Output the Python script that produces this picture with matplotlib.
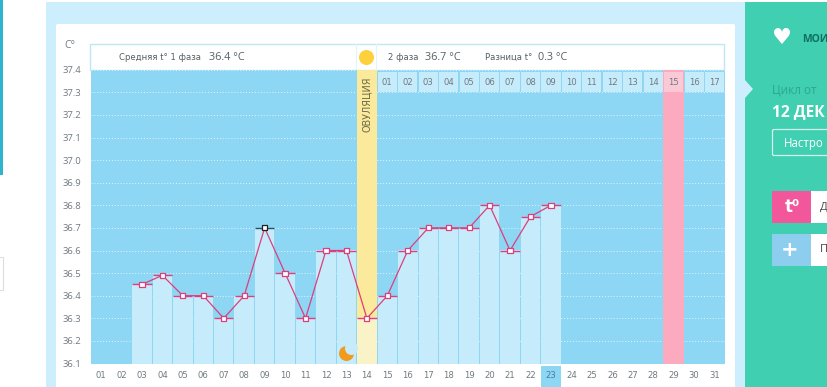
import matplotlib
matplotlib.use("Agg")
import matplotlib.pyplot as plt
from matplotlib.patches import Circle, Polygon, Rectangle, FancyBboxPatch

# data
days = list(range(1, 32))
day_labels = [f"{d:02d}" for d in days]
temp_days = list(range(3, 24))
temps = [36.45, 36.49, 36.4, 36.4, 36.3, 36.4, 36.7, 36.5, 36.3, 36.6, 36.6,
         36.3, 36.4, 36.6, 36.7, 36.7, 36.7, 36.8, 36.6, 36.75, 36.8]
y_ticks = [36.1, 36.2, 36.3, 36.4, 36.5, 36.6, 36.7, 36.8, 36.9, 37.0, 37.1, 37.2, 37.3, 37.4]
ovulation_day = 14
max_temp_day = 9
pink_day = 29
today = 23
phase2_days = list(range(15, 32))
phase2_labels = [f"{d:02d}" for d in range(1, 18)]

W, H = 828, 387
SKY = "#8dd6f4"
BAR = "#c6ecfc"
PALE = "#cdeefc"
TEAL = "#40cfb0"
YELLOW = "#fbe99c"
PINK = "#fcaabf"
LINE = "#dc3f7c"
GREY = "#6f7a80"

fig = plt.figure(figsize=(W / 100, H / 100), dpi=100, facecolor="white")
plt.rcParams["font.family"] = ["DejaVu Sans"]


def pixel_axes(z):
    a = fig.add_axes([0, 0, 1, 1], zorder=z)
    a.set_xlim(0, W)
    a.set_ylim(H, 0)
    a.axis("off")
    return a


bg = pixel_axes(0)
top = pixel_axes(2)

# page furniture
bg.add_patch(Rectangle((0, 0), 3, 175, fc="#2fb4cd", ec="none"))
bg.add_patch(Rectangle((-2, 257), 5, 33, fc="white", ec="#dddddd", lw=0.8))
bg.add_patch(Rectangle((46, 2), 699, 385, fc=PALE, ec="none"))
bg.add_patch(FancyBboxPatch((58, 26), 675, 365, boxstyle="round,pad=2", fc="white", ec="none"))

# right panel, the picture cuts its texts at the edge
bg.add_patch(Rectangle((745, 2), 83, 385, fc=TEAL, ec="none"))
bg.add_patch(Polygon([(745, 80), (753, 89), (745, 98)], fc=PALE, ec="none"))
bg.text(782, 38, "♥", color="white", fontsize=16, ha="center", va="center")
bg.text(802, 39, "МОИ", color="#0f6f62", fontsize=7.5, fontweight="bold",
        family="Open Sans", ha="left", va="center")
bg.text(772, 90, "Цикл от", color="#2aa894", fontsize=8.5, family="Open Sans", ha="left", va="center")
bg.text(772, 113, "12 ДЕК", color="white", fontsize=11.2, fontweight="bold",
        family="Open Sans", ha="left", va="center")
bg.add_patch(FancyBboxPatch((774, 131), 70, 23, boxstyle="round,pad=1.5", fc="none", ec="#d6f5ee", lw=0.9))
bg.text(784, 144, "Настро", color="white", fontsize=8.3, family="Open Sans", ha="left", va="center")
bg.add_patch(Rectangle((772, 191), 40, 32, fc="#f2569b", ec="none"))
bg.add_patch(Rectangle((811, 191), 20, 32, fc="white", ec="none"))
bg.text(792, 207, "t⁰", color="white", fontsize=12, fontweight="bold", ha="center", va="center")
bg.text(820, 207, "Д", color="#444444", fontsize=8, family="Open Sans", ha="left", va="center")
bg.add_patch(Rectangle((772, 234), 40, 32, fc="#8dcdee", ec="none"))
bg.add_patch(Rectangle((811, 234), 20, 32, fc="white", ec="none"))
bg.text(790, 250, "+", color="white", fontsize=15, fontweight="bold", ha="center", va="center")
bg.text(820, 250, "П", color="#444444", fontsize=8, family="Open Sans", ha="left", va="center")

# header strip above the chart
bg.add_patch(Rectangle((90.5, 43.5), 634, 26, fc="white", ec="#bfe6f5", lw=1))
bg.plot([356.5, 356.5], [44, 70], color="#e2f3fa", lw=0.8)
bg.plot([376.5, 376.5], [44, 70], color="#e2f3fa", lw=0.8)
bg.add_patch(Circle((366.5, 57.5), 7.5, fc="#fdd03c", ec="none"))
bg.text(119, 57, "Средняя t° 1 фаза", color="#555f64", fontsize=6.1, ha="left", va="center")
bg.text(209, 57, "36.4 °C", color="#555f64", fontsize=7.8, family="Open Sans", ha="left", va="center")
bg.text(388, 57, "2 фаза", color="#555f64", fontsize=6.1, ha="left", va="center")
bg.text(425, 57, "36.7 °C", color="#555f64", fontsize=7.8, family="Open Sans", ha="left", va="center")
bg.text(485, 57, "Разница t°", color="#555f64", fontsize=6.1, ha="left", va="center")
bg.text(538, 57, "0.3 °C", color="#555f64", fontsize=7.8, family="Open Sans", ha="left", va="center")
bg.text(64, 46, "C°", color=GREY, fontsize=7.5, family="Open Sans", ha="left", va="center")
bg.add_patch(Rectangle((540.8, 366), 20.4, 21, fc=SKY, ec="none"))

# chart itself
ax = fig.add_axes([90.8 / W, 1 - 363.5 / H, 634 / W, 293.8 / H], zorder=1)
ax.set_facecolor(SKY)
ax.set_xlim(0.5, 31.5)
ax.set_ylim(36.1, 37.4)
for s in ax.spines.values():
    s.set_visible(False)

ax.set_axisbelow(True)
ax.yaxis.grid(True, color="white", lw=0.7, ls=(0, (1, 2)), alpha=0.75)
ax.set_yticks(y_ticks)
ax.set_yticklabels([f"{v:.1f}" for v in y_ticks], fontsize=6.8, color=GREY, family="Open Sans")
ax.set_xticks(days)
ax.set_xticklabels(day_labels, fontsize=6.1, color=GREY)
ax.get_xticklabels()[today - 1].set_color("#4a7f99")
ax.tick_params(axis="y", length=0, pad=7)
ax.tick_params(axis="x", length=0, pad=5.5)

# special columns
ax.axvspan(ovulation_day - 0.5, ovulation_day + 0.5, color=YELLOW, lw=0, zorder=1)
ax.axvspan(pink_day - 0.5, pink_day + 0.5, color=PINK, lw=0, zorder=1)

# cycle day header row
ax.bar(phase2_days, [0.09] * len(phase2_days), bottom=37.3, width=0.94,
       color=["#fbc9d6" if d == pink_day else BAR for d in phase2_days], zorder=2)
for d, lab in zip(phase2_days, phase2_labels):
    ax.text(d, 37.342, lab, fontsize=6.1, color=GREY, ha="center", va="center", zorder=3)

# temperature columns
bar_colors = ["#fbf3c8" if d == ovulation_day else BAR for d in temp_days]
bar_width = [1.0 if d == ovulation_day else 0.95 for d in temp_days]
ax.bar(temp_days, [t - 36.1 for t in temps], bottom=36.1, width=bar_width, color=bar_colors, zorder=2)

tick_colors = ["#24505f" if d == max_temp_day else LINE for d in temp_days]
ax.hlines(temps, [d - 0.47 for d in temp_days], [d + 0.47 for d in temp_days],
          colors=tick_colors, lw=1, zorder=3)
ax.plot(temp_days, temps, color=LINE, lw=0.9, zorder=4)
ax.scatter(temp_days, temps, marker="s", s=14, color="white", zorder=5,
           edgecolors=["#222222" if d == max_temp_day else LINE for d in temp_days], linewidths=0.9)

ax.text(ovulation_day, 37.125, "ОВУЛЯЦИЯ", rotation=90, fontsize=6.9, color="#6b6a4a",
        ha="center", va="bottom", zorder=3)

# moon
top.add_patch(Circle((346.5, 353.5), 7.5, fc="#f09a1e", ec="none"))
top.add_patch(Circle((351.5, 348.5), 6.5, fc=BAR, ec="none"))

fig.savefig("out.png", dpi=100)
